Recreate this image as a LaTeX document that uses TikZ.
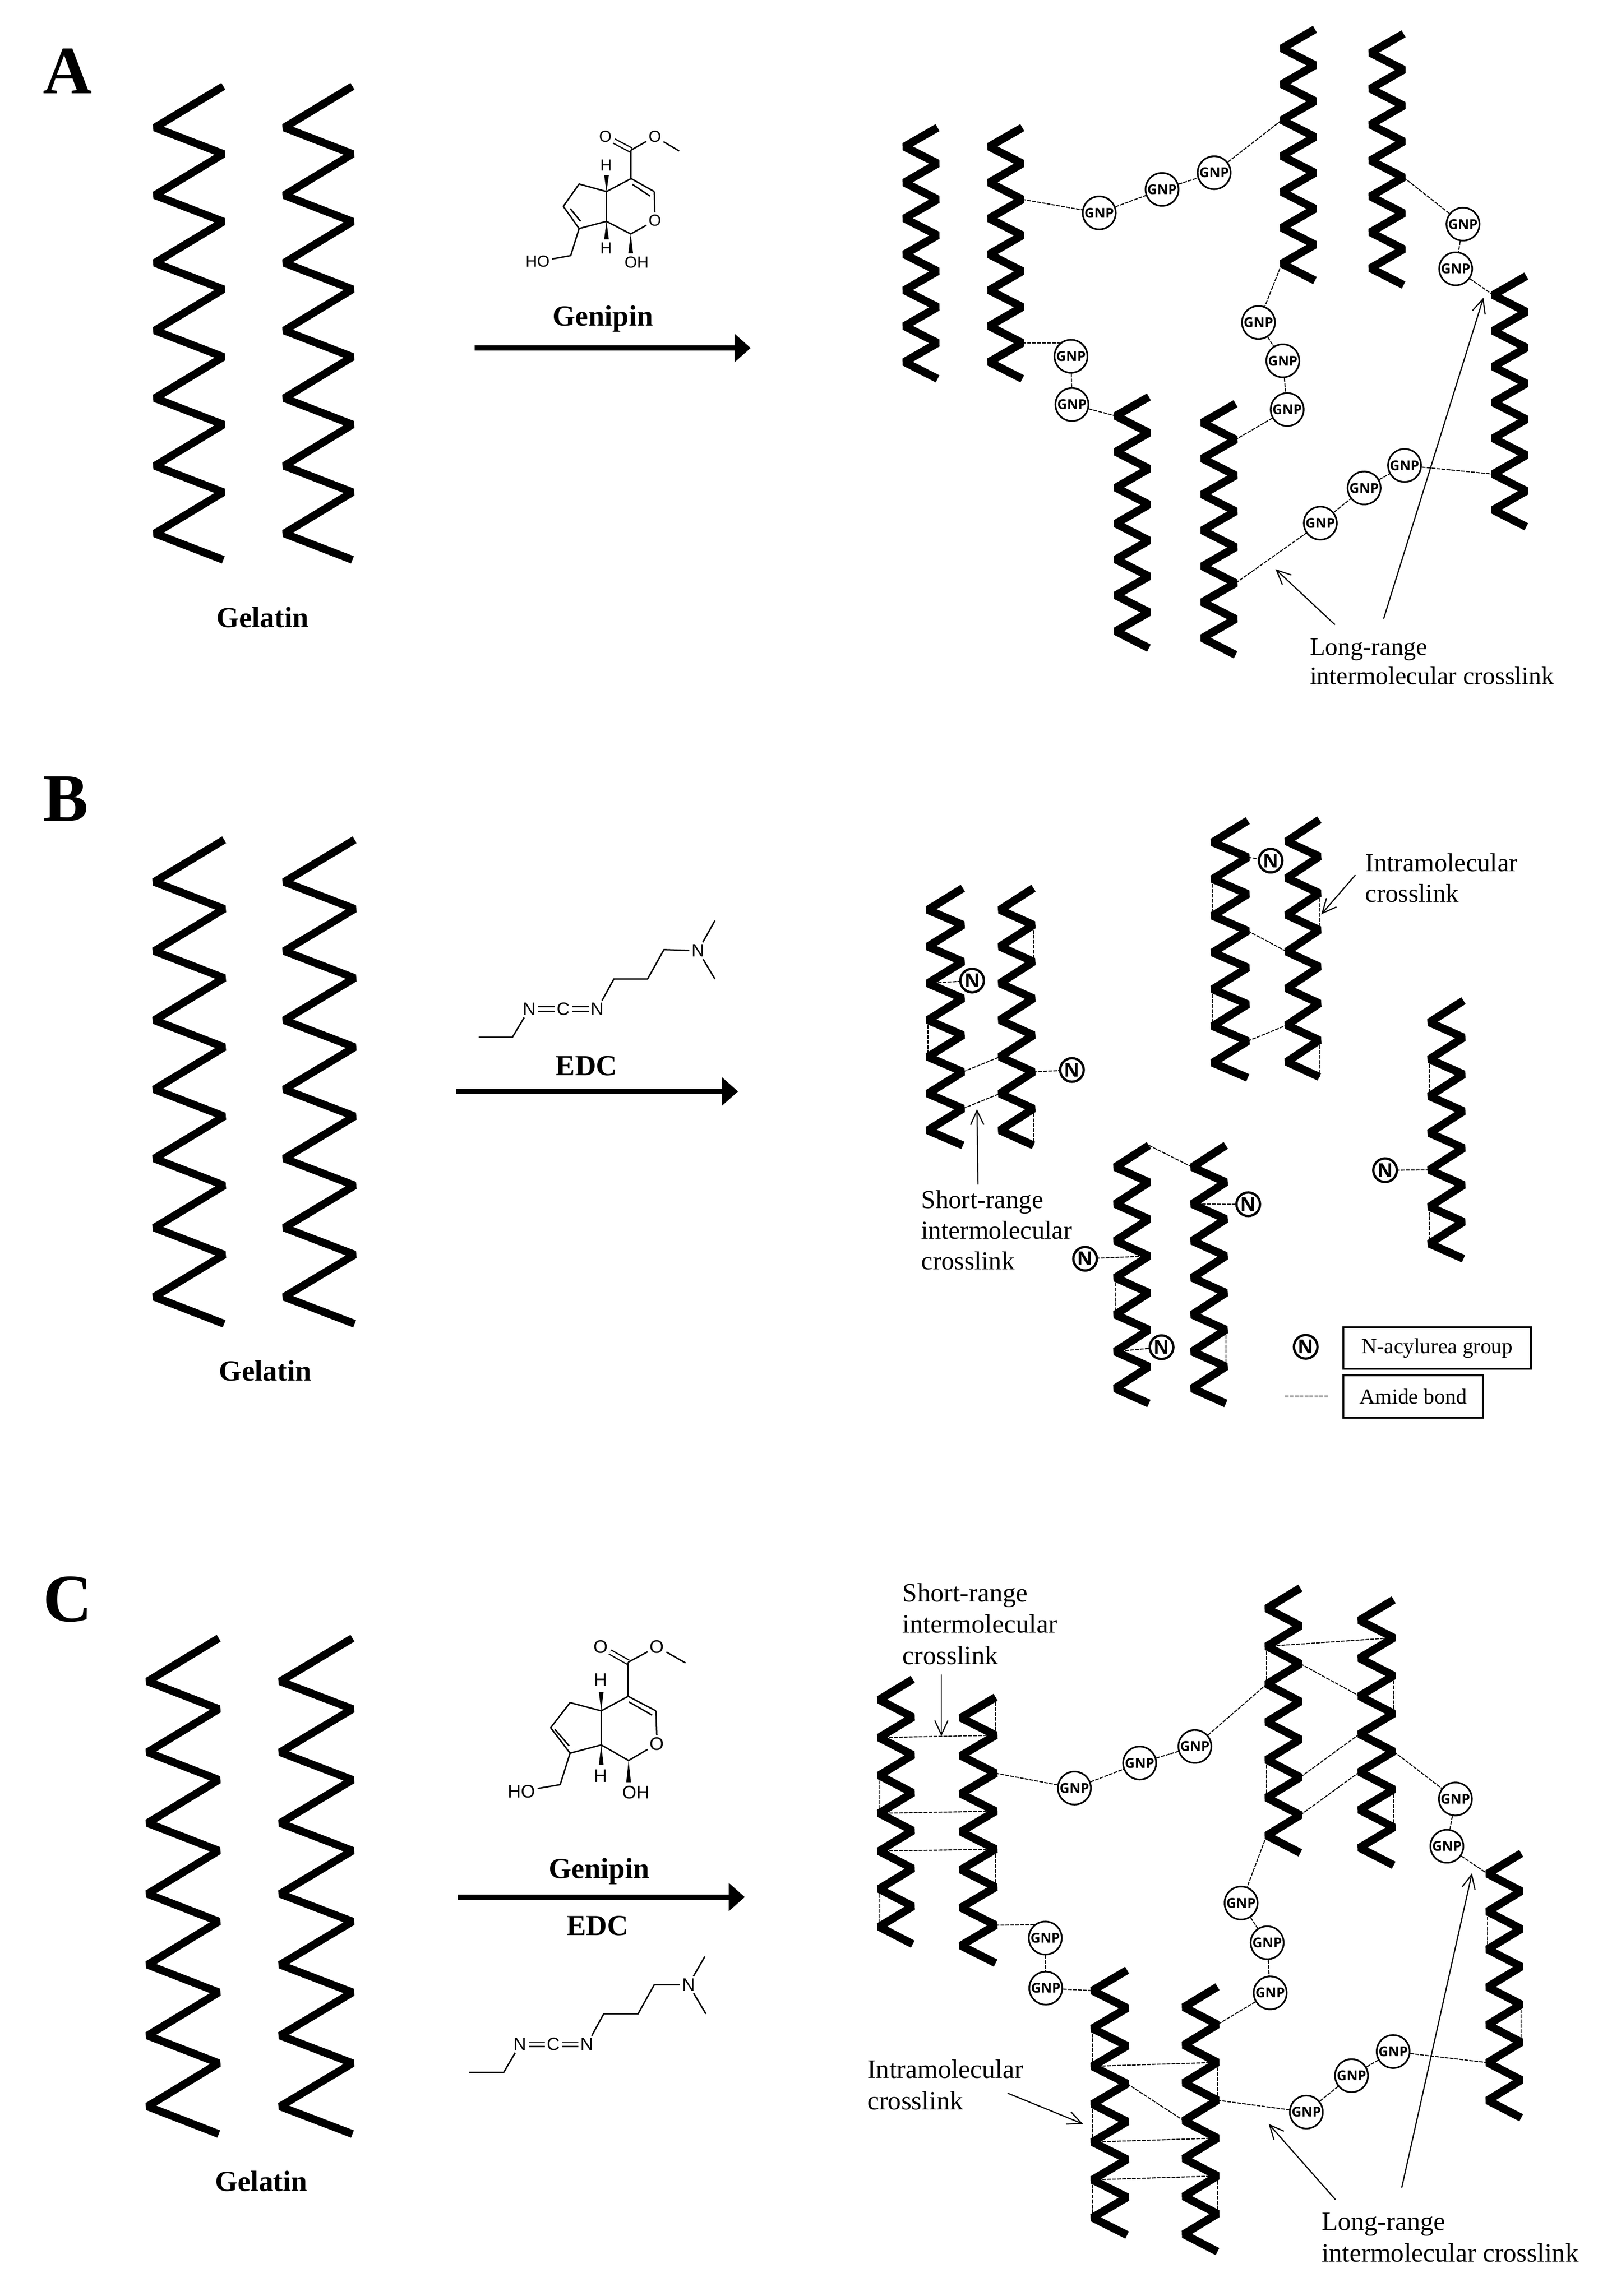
\documentclass[tikz,border=0pt]{standalone}
\usepackage{fontspec}
\setmainfont{Liberation Serif}
\setsansfont{Open Sans}
\newfontfamily\molfont{Liberation Sans}
\usetikzlibrary{arrows.meta}
\tikzset{
  zoomed/.style n args={4}{shift={(#1*0.01cm,-#2*0.01cm)},x=#3/1567*0.2845276pt,y=-#4/1567*0.2845276pt},
  helix/.style={line width=0.17cm,line join=bevel,black},
  bighelix/.style={line width=0.165cm,line join=bevel,black},
  link/.style={line width=0.022cm,dash pattern=on 0.08cm off 0.025cm,black},
  gnp/.style={circle,draw,fill=white,line width=0.035cm,minimum size=0.7cm,inner sep=0pt,font=\sffamily\bfseries\fontsize{8.2}{9}\selectfont},
  nacyl/.style={circle,draw,fill=white,line width=0.05cm,minimum size=0.5cm,inner sep=0pt,font=\sffamily\bfseries\fontsize{11.5}{12}\selectfont},
  pointer/.style={line width=0.025cm,-{Straight Barb[length=0.3cm,width=0.28cm]}},
  tag/.style={anchor=west,align=left,inner sep=0pt,font=\fontsize{15.2}{17.6}\selectfont},
  tagB/.style={tag,font=\fontsize{15.6}{18.5}\selectfont},
  tagC/.style={tag,font=\fontsize{16}{19}\selectfont},
  boldtag/.style={inner sep=0pt,font=\bfseries\fontsize{17.6}{20}\selectfont},
  letter/.style={anchor=base west,inner sep=0pt,font=\bfseries\fontsize{41}{44}\selectfont},
  rxn/.style={line width=0.115cm,-{Triangle[length=0.34cm,width=0.58cm]}},
  legendbox/.style={draw,line width=0.04cm,inner sep=0pt,font=\fontsize{13}{15}\selectfont},
  bond/.style={line width=0.03cm},
  dbond/.style={line width=0.026cm,double,double distance=0.07cm},
  atom/.style={inner sep=1.2pt,font=\molfont\fontsize{#1}{#1}\selectfont},
}
% chain: name, right x, left x, top y, bottom y, fraction of period to first left vertex, style
\newcommand\zz[7][helix]{%
  \pgfmathsetmacro\zzp{(#6-#5)/7}%
  \foreach \k in {0,...,7}{%
    \pgfmathtruncatemacro\ki{2*\k}%
    \coordinate (#2-\ki) at (#3,{#5+\k*\zzp});%
  }%
  \foreach \k in {0,...,6}{%
    \pgfmathtruncatemacro\ki{2*\k+1}%
    \coordinate (#2-\ki) at (#4,{#5+(\k+#7)*\zzp});%
  }%
  \draw[#1] (#2-0) foreach \k in {1,...,14}{-- (#2-\k)};%
}
% genipin drawn from coordinates <prefix>p...; #2 = font size
\newcommand\genipin[2]{%
  \node[atom=#2] (#1O1) at (#1pO1) {O};
  \node[atom=#2] (#1O2) at (#1pO2) {O};
  \node[atom=#2] (#1Or) at (#1pOr) {O};
  \node[atom=#2] (#1HO) at (#1pHO) {HO};
  \node[atom=#2] (#1OH) at (#1pOH) {OH};
  \node[atom=#2] (#1Ha) at (#1pHa) {H};
  \node[atom=#2] (#1Hb) at (#1pHb) {H};
  \draw[dbond] (#1O1) -- (#1Ce);
  \draw[bond] (#1Ce) -- (#1O2);
  \draw[bond] (#1O2) -- (#1Me);
  \draw[bond] (#1Ce) -- (#1C4);
  \draw[bond,line join=round] (#1C8) -- (#1C7) -- (#1C6) -- (#1C5) -- (#1C4) -- (#1C3);
  \draw[bond] (#1C3) -- (#1Or);
  \draw[bond] (#1Or) -- (#1C1) -- (#1C9) -- (#1C5);
  \draw[bond] (#1C9) -- (#1C8);
  \draw[bond] (#1C8) -- (#1CH) -- (#1HO);
  \draw[bond] (#1ia) -- (#1ib);
  \draw[bond] (#1ic) -- (#1id);
  \fill (#1C5) -- ([xshift=0.05cm]#1Wa) -- ([xshift=-0.05cm]#1Wa) -- cycle;
  \fill (#1C9) -- ([xshift=0.05cm]#1Wb) -- ([xshift=-0.05cm]#1Wb) -- cycle;
  \fill (#1C1) -- ([xshift=0.05cm]#1Wc) -- ([xshift=-0.05cm]#1Wc) -- cycle;
}
% EDC drawn from coordinates <prefix>...
\newcommand\edc[1]{%
  \node[atom=10.8] (#1Na) at (#1pNa) {N};
  \node[atom=10.8] (#1Cc) at (#1pCc) {C};
  \node[atom=10.8] (#1Nb) at (#1pNb) {N};
  \node[atom=10.8] (#1Nc) at (#1pNc) {N};
  \draw[dbond] (#1Na) -- (#1Cc);
  \draw[dbond] (#1Cc) -- (#1Nb);
  \draw[bond] (#1e1) -- (#1e2) -- (#1Na);
  \draw[bond] (#1Nb) -- (#1e3) -- (#1e4) -- (#1e5) -- (#1Nc);
  \draw[bond] (#1Nc) -- (#1e6);
  \draw[bond] (#1Nc) -- (#1e7);
}
\begin{document}
\begin{tikzpicture}
\path[use as bounding box,fill=white] (0cm,0cm) rectangle (34.19cm,-48.73cm);

%% ---------- left gelatin, panel A
\begin{scope}[zoomed={0}{0}{900}{1400}]
  \zz[bighelix]{lax}{825}{572}{205}{1330}{0.61}
  \zz[bighelix]{lay}{1302}{1050}{205}{1330}{0.61}
  \node[letter] (letA) at (158,222) {A};
  \node[boldtag] (gelA) at (970,1467) {Gelatin};
\end{scope}
%% ---------- left gelatin, panel B
\begin{scope}[zoomed={0}{1600}{900}{1400}]
  \zz[bighelix]{lbx}{828}{570}{205}{1355}{0.61}
  \zz[bighelix]{lby}{1310}{1050}{205}{1355}{0.61}
  \node[letter] (letB) at (158,160) {B};
  \node[boldtag] (gelB) at (980,1467) {Gelatin};
\end{scope}
%% ---------- left gelatin, panel C
\begin{scope}[zoomed={0}{3300}{900}{1400}]
  \zz[bighelix]{lcx}{808}{545}{200}{1378}{0.61}
  \zz[bighelix]{lcy}{1302}{1035}{200}{1378}{0.61}
  \node[letter] (letC) at (158,160) {C};
  \node[boldtag] (gelC) at (965,1490) {Gelatin};
\end{scope}

%% ---------- genipin + arrow, panel A
\begin{scope}[zoomed={950}{200}{700}{600}]
  \coordinate (ApO1) at (750,235); \coordinate (ApO2) at (985,235);
  \coordinate (ACe) at (872,310); \coordinate (AMe) at (1100,315);
  \coordinate (AC4) at (872,468); \coordinate (AC5) at (755,540);
  \coordinate (AC3) at (982,540); \coordinate (ApOr) at (985,700);
  \coordinate (AC1) at (870,775); \coordinate (AC9) at (755,705);
  \coordinate (AC6) at (625,498); \coordinate (AC7) at (550,622);
  \coordinate (AC8) at (625,745); \coordinate (ACH) at (585,895);
  \coordinate (ApHO) at (428,928); \coordinate (ApOH) at (898,932);
  \coordinate (ApHa) at (753,393); \coordinate (ApHb) at (753,855);
  \coordinate (Aia) at (878,500); \coordinate (Aib) at (962,565);
  \coordinate (Aic) at (583,635); \coordinate (Aid) at (632,705);
  \coordinate (AWa) at (755,450); \coordinate (AWb) at (755,805);
  \coordinate (AWc) at (870,882);
  \genipin{A}{9.7}
  \node[boldtag] (genA) at (738,1246) {Genipin};
  \coordinate (arAs) at (128,1407); \coordinate (arAe) at (1440,1407);
  \draw[rxn] (arAs) -- (arAe);
\end{scope}

%% ---------- EDC + arrow, panel B
\begin{scope}[zoomed={950}{1900}{700}{522.33}]
  \coordinate (BpNa) at (388,728); \coordinate (BpCc) at (550,728);
  \coordinate (BpNb) at (712,728); \coordinate (BpNc) at (1190,357);
  \coordinate (Be1) at (148,908); \coordinate (Be2) at (308,908);
  \coordinate (Be3) at (790,537); \coordinate (Be4) at (950,537);
  \coordinate (Be5) at (1028,350); \coordinate (Be6) at (1270,165);
  \coordinate (Be7) at (1270,537);
  \edc{B}
  \node[boldtag] (edcB) at (660,1090) {EDC};
  \coordinate (arBs) at (42,1253); \coordinate (arBe) at (1380,1253);
  \draw[rxn] (arBs) -- (arBe);
\end{scope}

%% ---------- genipin, EDC, arrow, panel C
\begin{scope}[zoomed={950}{3400}{700}{1100}]
  \coordinate (CpO1) at (727,138); \coordinate (CpO2) at (995,138);
  \coordinate (CCe) at (858,185); \coordinate (CMe) at (1130,187);
  \coordinate (CC4) at (858,288); \coordinate (CC5) at (730,332);
  \coordinate (CC3) at (990,332); \coordinate (CpOr) at (995,432);
  \coordinate (CC1) at (860,482); \coordinate (CC9) at (730,435);
  \coordinate (CC6) at (582,307); \coordinate (CC7) at (490,383);
  \coordinate (CC8) at (582,460); \coordinate (CCH) at (535,555);
  \coordinate (CpHO) at (352,575); \coordinate (CpOH) at (895,578);
  \coordinate (CpHa) at (727,238); \coordinate (CpHb) at (727,528);
  \coordinate (Cia) at (862,305); \coordinate (Cib) at (972,345);
  \coordinate (Cic) at (510,388); \coordinate (Cid) at (578,438);
  \coordinate (CWa) at (730,275); \coordinate (CWb) at (730,495);
  \coordinate (CWc) at (860,548);
  \genipin{C}{11}
  \node[boldtag] (genC) at (720,817) {Genipin};
  \node[boldtag] (edcC) at (712,982) {EDC};
  \coordinate (arCs) at (48,895); \coordinate (arCe) at (1412,895);
  \draw[rxn] (arCs) -- (arCe);
  \coordinate (CpNa) at (345,1340); \coordinate (CpCc) at (503,1340);
  \coordinate (CpNb) at (663,1340); \coordinate (CpNc) at (1145,1160);
  \coordinate (Ce1) at (103,1425); \coordinate (Ce2) at (267,1425);
  \coordinate (Ce3) at (742,1248); \coordinate (Ce4) at (905,1248);
  \coordinate (Ce5) at (982,1160); \coordinate (Ce6) at (1222,1075);
  \coordinate (Ce7) at (1227,1248);
  \edc{C}
\end{scope}

%% ---------- product, panel A
\begin{scope}[zoomed={1800}{0}{1619}{1500}]
  \zz{a1}{184}{116}{283}{840}{0.53}
  \zz{a2}{358}{290}{283}{840}{0.53}
  \zz{a3}{959}{891}{65}{622}{0.53}
  \zz{a4}{1141}{1073}{75}{632}{0.53}
  \zz{a5}{1393}{1325}{612}{1168}{0.53}
  \zz{a6}{618}{550}{880}{1437}{0.53}
  \zz{a7}{796}{728}{895}{1452}{0.53}
  \node[gnp] (ag1) at (516,472) {GNP};
  \node[gnp] (ag2) at (645,420) {GNP};
  \node[gnp] (ag3) at (752,383) {GNP};
  \node[gnp] (ag4) at (458,790) {GNP};
  \node[gnp] (ag5) at (460,897) {GNP};
  \node[gnp] (ag6) at (843,715) {GNP};
  \node[gnp] (ag7) at (893,800) {GNP};
  \node[gnp] (ag8) at (902,908) {GNP};
  \node[gnp] (ag9) at (1263,497) {GNP};
  \node[gnp] (ag10) at (1248,596) {GNP};
  \node[gnp] (ag11) at (970,1160) {GNP};
  \node[gnp] (ag12) at (1060,1082) {GNP};
  \node[gnp] (ag13) at (1143,1032) {GNP};
  \draw[link] (a2-4) -- (ag1) -- (ag2) -- (ag3) -- (a3-5);
  \draw[link] (a2-12) -- (ag4.130);
  \draw[link] (ag4) -- (ag5) -- (a6-1);
  \draw[link] (a3-13) -- (ag6) -- (ag7) -- (ag8) -- (a7-2);
  \draw[link] (a4-8) -- (ag9) -- (ag10) -- (a5-1);
  \draw[link] (a7-10) -- (ag11) -- (ag12) -- (ag13) -- (a5-11);
  \node[tag] (lrA) at (948,1467) {Long-range\\intermolecular crosslink};
  \coordinate (lrA1) at (1000,1385); \coordinate (lrA1e) at (878,1262);
  \coordinate (lrA2) at (1100,1372); \coordinate (lrA2e) at (1305,660);
  \draw[pointer] (lrA1) -- (lrA1e);
  \draw[pointer] (lrA2) -- (lrA2e);
\end{scope}

%% ---------- product, panel B
\begin{scope}[zoomed={1800}{1650}{1619}{1450}]
  \zz{b1}{236}{164}{255}{845}{0.59}
  \zz{b2}{381}{312}{255}{845}{0.59}
  \zz{b3}{821}{749}{100}{690}{0.59}
  \zz{b4}{968}{901}{98}{688}{0.59}
  \zz{b5}{1264}{1194}{513}{1105}{0.59}
  \zz{b6}{618}{549}{845}{1437}{0.59}
  \zz{b7}{776}{707}{845}{1437}{0.59}
  \node[nacyl] (n1) at (255,467) {N};
  \node[nacyl] (n2) at (460,672) {N};
  \node[nacyl] (n3) at (868,192) {N};
  \node[nacyl] (n4) at (1103,902) {N};
  \node[nacyl] (n5) at (822,980) {N};
  \node[nacyl] (n6) at (487,1105) {N};
  \node[nacyl] (n7) at (644,1308) {N};
  \draw[link] (b1-5) -- (n1);
  \draw[link] (b2-10) -- (n2);
  \draw[link] (b3-2) -- (n3);
  \draw[link] (b5-9) -- (n4);
  \draw[link] (b7-3) -- (n5);
  \draw[link] (b6-6) -- (n6);
  \draw[link] (b6-11) -- (n7);
  \foreach \p/\q in {b1-7/b1-9,b2-2/b2-4,b2-12/b2-14,b3-3/b3-5,b4-4/b4-6,b3-9/b3-11,b4-12/b4-14,b5-3/b5-5,b5-11/b5-13,b6-7/b6-9,b7-10/b7-12,
                     b1-10/b2-9,b1-12/b2-11,b3-6/b4-7,b3-12/b4-11,b6-0/b7-1}
    \draw[link] (\p) -- (\q);
  \node[tagB] (srB) at (150,1039) {Short-range\\intermolecular\\crosslink};
  \coordinate (srBs) at (267,935); \coordinate (srBe) at (265,762);
  \draw[pointer] (srBs) -- (srBe);
  \node[tagB] (imB) at (1062,231) {Intramolecular\\crosslink};
  \coordinate (imBs) at (1042,225); \coordinate (imBe) at (972,315);
  \draw[pointer] (imBs) -- (imBe);
  \node[nacyl] (nleg) at (940,1307) {N};
  \node[legendbox,minimum width=3.98cm,minimum height=0.88cm] (bx1) at (1210,1310) {N-acylurea group};
  \coordinate (legs) at (897,1420); \coordinate (lege) at (987,1420);
  \draw[link] (legs) -- (lege);
  \node[legendbox,minimum width=2.96cm,minimum height=0.9cm] (bx2) at (1161,1421) {Amide bond};
\end{scope}

%% ---------- product, panel C
\begin{scope}[zoomed={1750}{3300}{1669}{1573}]
  \zz{c1}{176}{109}{265}{825}{0.54}
  \zz{c2}{341}{272}{303}{865}{0.54}
  \zz{c3}{948}{881}{72}{632}{0.54}
  \zz{c4}{1134}{1066}{97}{658}{0.54}
  \zz{c5}{1388}{1321}{633}{1192}{0.54}
  \zz{c6}{603}{534}{880}{1440}{0.54}
  \zz{c7}{783}{716}{915}{1475}{0.54}
  \node[gnp] (cg1) at (498,495) {GNP};
  \node[gnp] (cg2) at (628,442) {GNP};
  \node[gnp] (cg3) at (738,407) {GNP};
  \node[gnp] (cg4) at (440,812) {GNP};
  \node[gnp] (cg5) at (441,918) {GNP};
  \node[gnp] (cg6) at (830,738) {GNP};
  \node[gnp] (cg7) at (882,822) {GNP};
  \node[gnp] (cg8) at (888,928) {GNP};
  \node[gnp] (cg9) at (1257,518) {GNP};
  \node[gnp] (cg10) at (1240,618) {GNP};
  \node[gnp] (cg11) at (960,1180) {GNP};
  \node[gnp] (cg12) at (1050,1103) {GNP};
  \node[gnp] (cg13) at (1133,1052) {GNP};
  \draw[link] (c2-4) -- (cg1) -- (cg2) -- (cg3) -- (c3-5);
  \draw[link] (c2-12) -- (cg4.130);
  \draw[link] (cg4) -- (cg5) -- (c6-1);
  \draw[link] (c3-13) -- (cg6) -- (cg7) -- (cg8) -- (c7-2);
  \draw[link] (c4-8) -- (cg9) -- (cg10) -- (c5-1);
  \draw[link] (c7-6) -- (cg11) -- (cg12) -- (cg13) -- (c5-11);
  \foreach \p/\q in {c1-3/c2-2,c2-0/c2-2,c1-5/c1-7,c1-7/c2-6,c1-9/c2-8,c2-8/c2-10,c1-11/c1-13,
                     c3-3/c4-2,c3-3/c3-5,c3-4/c4-5,c4-4/c4-6,c3-10/c4-7,c3-12/c4-9,c3-9/c3-11,c4-10/c4-12,
                     c5-3/c5-5,c5-8/c5-10,
                     c6-3/c6-5,c6-5/c7-4,c7-4/c7-6,c6-6/c7-7,c6-7/c6-9,c6-9/c7-8,c6-11/c7-10,c6-11/c6-13,c7-10/c7-12}
    \draw[link] (\p) -- (\q);
  \node[tagC] (srC) at (155,148) {Short-range\\intermolecular\\crosslink};
  \coordinate (srCs) at (233,255); \coordinate (srCe) at (233,385);
  \draw[pointer] (srCs) -- (srCe);
  \node[tagC] (imC) at (85,1122) {Intramolecular\\crosslink};
  \coordinate (imCs) at (365,1140); \coordinate (imCe) at (515,1205);
  \draw[pointer] (imCs) -- (imCe);
  \node[tagC] (lrC) at (990,1445) {Long-range\\intermolecular crosslink};
  \coordinate (lrC1) at (1018,1365); \coordinate (lrC1e) at (885,1205);
  \coordinate (lrC2) at (1150,1340); \coordinate (lrC2e) at (1290,675);
  \draw[pointer] (lrC1) -- (lrC1e);
  \draw[pointer] (lrC2) -- (lrC2e);
\end{scope}
\end{tikzpicture}
\end{document}
